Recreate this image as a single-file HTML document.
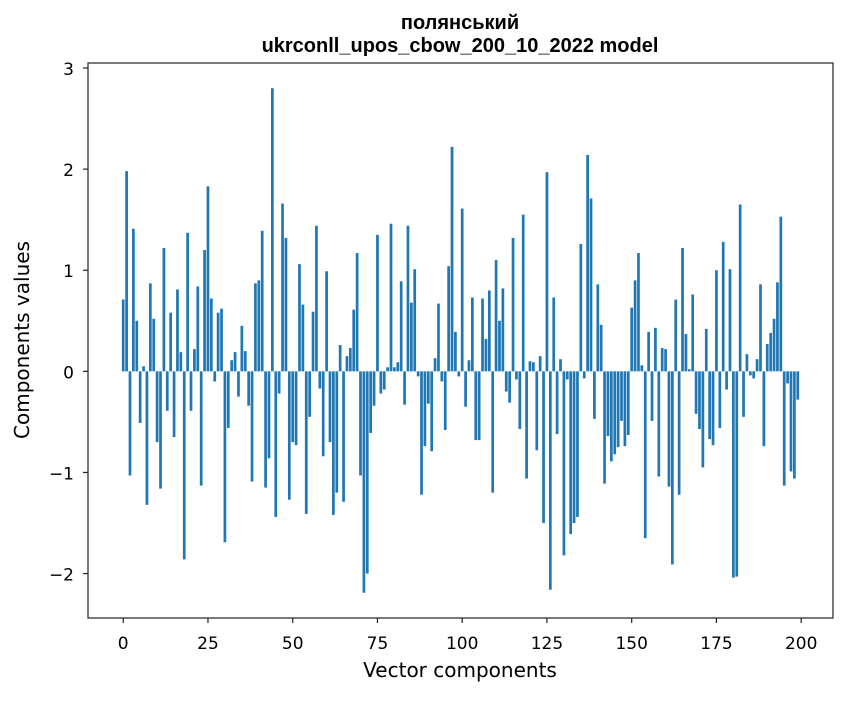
<!DOCTYPE html>
<html><head><meta charset="utf-8"><style>
body{margin:0;background:#fff;}
svg text{font-family:"DejaVu Sans","Liberation Sans",sans-serif;}
</style></head><body>
<svg id="chart" width="847" height="696" xmlns="http://www.w3.org/2000/svg">
<rect width="847" height="696" fill="#fff"/>
<text x="460" y="29" text-anchor="middle" font-size="20" font-weight="bold" style="font-family:'Liberation Sans',sans-serif">полянський</text>
<text x="460" y="52" text-anchor="middle" font-size="20" font-weight="bold" style="font-family:'Liberation Sans',sans-serif">ukrconll_upos_cbow_200_10_2022 model</text>
<text x="460" y="677" text-anchor="middle" font-size="20">Vector components</text>
<text transform="translate(29,340) rotate(-90)" text-anchor="middle" font-size="20">Components values</text>
<g id="bars"></g>
<g id="axes"></g>
</svg>
<script>
const values = [0.71,1.98,-1.03,1.41,0.50,-0.51,0.05,-1.32,0.87,0.52,-0.70,-1.16,1.22,-0.39,0.58,-0.65,0.81,0.19,-1.86,1.37,
-0.39,0.22,0.84,-1.13,1.20,1.83,0.72,-0.10,0.58,0.62,-1.69,-0.56,0.11,0.19,-0.25,0.45,0.20,-0.34,-1.09,0.87,
0.90,1.39,-1.15,-0.86,2.80,-1.44,-0.22,1.66,1.32,-1.27,-0.70,-0.73,1.06,0.66,-1.41,-0.45,0.59,1.44,-0.17,-0.84,
0.99,-0.70,-1.42,-1.20,0.26,-1.29,0.15,0.23,0.61,1.17,-1.03,-2.19,-2.00,-0.61,-0.34,1.35,-0.22,-0.18,0.04,1.46,
0.04,0.09,0.89,-0.33,1.44,0.68,1.01,-0.05,-1.22,-0.74,-0.32,-0.79,0.13,0.67,-0.10,-0.58,1.04,2.22,0.39,-0.05,
1.61,-0.35,0.11,0.73,-0.68,-0.68,0.72,0.32,0.80,-1.20,1.10,0.50,0.82,-0.20,-0.31,1.32,-0.08,-0.57,1.55,-1.06,
0.10,0.09,-0.78,0.15,-1.50,1.97,-2.16,0.73,-0.62,0.12,-1.82,-0.08,-1.61,-1.50,-1.44,1.26,-0.07,2.14,1.71,-0.47,
0.86,0.46,-1.11,-0.64,-0.89,-0.82,-0.75,-0.49,-0.74,-0.63,0.63,0.90,1.17,0.06,-1.65,0.39,-0.49,0.43,-1.04,0.23,
0.22,-1.14,-1.91,0.71,-1.22,1.22,0.37,0.02,0.76,-0.42,-0.57,-0.95,0.42,-0.67,-0.73,1.00,-0.56,1.28,-0.18,1.01,
-2.04,-2.03,1.65,-0.45,0.17,-0.04,-0.07,0.12,0.86,-0.74,0.27,0.38,0.52,0.88,1.53,-1.13,-0.12,-0.99,-1.06,-0.28];
const xTicks = [0,25,50,75,100,125,150,175,200];
const yTicks = [-2,-1,0,1,2,3];

const L=88,R=833,T=63,B=618;
const n=values.length;
const xmin=-0.4, xmax=n-1+0.4, xm=(xmax-xmin)*0.05;
const x0=xmin-xm, x1=xmax+xm;
const vmin=Math.min(0,...values), vmax=Math.max(0,...values), ym=(vmax-vmin)*0.05;
const y0=vmin-ym, y1=vmax+ym;
const sx=v=>L+(v-x0)/(x1-x0)*(R-L);
const sy=v=>B-(v-y0)/(y1-y0)*(B-T);
const NS="http://www.w3.org/2000/svg";
const bars=document.getElementById('bars');
values.forEach((v,i)=>{
  const r=document.createElementNS(NS,'rect');
  const xa=sx(i-0.4), xb=sx(i+0.4);
  const ya=sy(Math.max(v,0)), yb=sy(Math.min(v,0));
  r.setAttribute('x',xa);r.setAttribute('width',xb-xa);
  r.setAttribute('y',ya);r.setAttribute('height',Math.max(yb-ya,0.01));
  r.setAttribute('fill','#1f77b4');
  
  
  bars.appendChild(r);
});
const ax=document.getElementById('axes');
const fr=document.createElementNS(NS,'rect');
fr.setAttribute('x',L);fr.setAttribute('y',T);fr.setAttribute('width',R-L);fr.setAttribute('height',B-T);
fr.setAttribute('fill','none');fr.setAttribute('stroke','#222');fr.setAttribute('stroke-width','1.2');


ax.appendChild(fr);
xTicks.forEach(t=>{
  const x=sx(t);
  const l=document.createElementNS(NS,'line');
  l.setAttribute('x1',x);l.setAttribute('x2',x);l.setAttribute('y1',B);l.setAttribute('y2',B+5);l.setAttribute('stroke','#222');l.setAttribute('stroke-width','1.2');
  
  
  ax.appendChild(l);
  const tx=document.createElementNS(NS,'text');
  tx.setAttribute('x',x);tx.setAttribute('y',B+31);tx.setAttribute('text-anchor','middle');tx.setAttribute('font-size','17');
  tx.textContent=t;
  
  
  ax.appendChild(tx);
});
yTicks.forEach(t=>{
  const y=sy(t);
  const l=document.createElementNS(NS,'line');
  l.setAttribute('x1',L-5);l.setAttribute('x2',L);l.setAttribute('y1',y);l.setAttribute('y2',y);l.setAttribute('stroke','#222');l.setAttribute('stroke-width','1.2');
  
  
  ax.appendChild(l);
  const tx=document.createElementNS(NS,'text');
  tx.setAttribute('x',L-14);tx.setAttribute('y',y+7);tx.setAttribute('text-anchor','end');tx.setAttribute('font-size','17');
  tx.textContent=t<0?'\u2212'+Math.abs(t):String(t);
  
  
  ax.appendChild(tx);
});
</script>
</body></html>
